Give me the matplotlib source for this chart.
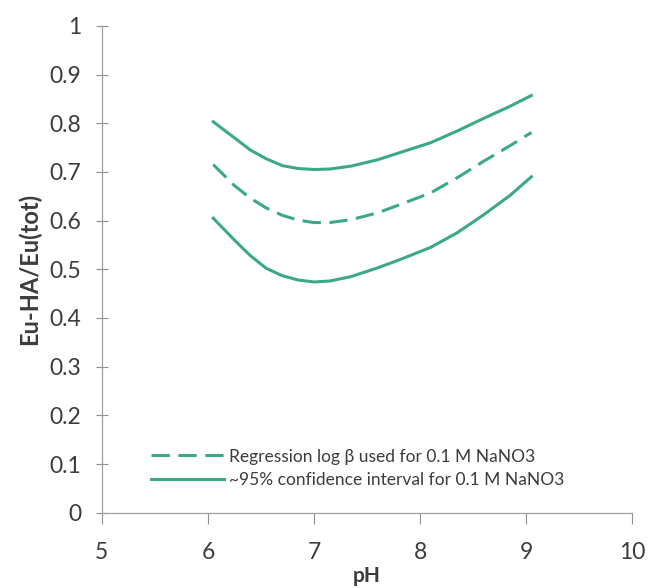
import matplotlib
matplotlib.use("Agg")
import matplotlib.pyplot as plt

ph = [6.05, 6.25, 6.4, 6.55, 6.7, 6.85, 7.0, 7.15, 7.35, 7.6, 7.8, 8.1, 8.35, 8.6, 8.85, 9.05]
upper = [0.803, 0.770, 0.745, 0.727, 0.713, 0.707, 0.705, 0.706, 0.712, 0.725, 0.739,
         0.760, 0.784, 0.810, 0.835, 0.857]
regression = [0.715, 0.672, 0.646, 0.626, 0.611, 0.601, 0.596, 0.596, 0.602, 0.616, 0.632,
              0.657, 0.688, 0.722, 0.754, 0.781]
lower = [0.605, 0.560, 0.528, 0.502, 0.487, 0.478, 0.474, 0.476, 0.485, 0.503, 0.519,
         0.545, 0.575, 0.612, 0.652, 0.690]

xticks = [5, 6, 7, 8, 9, 10]
yticks = [0, 0.1, 0.2, 0.3, 0.4, 0.5, 0.6, 0.7, 0.8, 0.9, 1]
ylabels = ["0", "0.1", "0.2", "0.3", "0.4", "0.5", "0.6", "0.7", "0.8", "0.9", "1"]

green = "#3BAA82"
grey = "#3c3c3c"
plt.rcParams["font.family"] = ["Lato", "DejaVu Sans"]

fig = plt.figure(figsize=(6.49, 5.88), dpi=100)
ax = fig.add_axes([0.157, 0.128, 0.817, 0.828])

ax.plot(ph, regression, color=green, lw=2.2, ls=(0, (6, 2.8)),
        label="Regression log \u03b2 used for 0.1 M NaNO3")
ax.plot(ph, upper, color=green, lw=2.2, label="~95% confidence interval for 0.1 M NaNO3")
ax.plot(ph, lower, color=green, lw=2.2)

ax.set_xlim(5, 10)
ax.set_ylim(0, 1)
ax.set_xticks(xticks)
ax.set_yticks(yticks)
ax.set_yticklabels(ylabels)
ax.tick_params(axis="both", labelsize=16.5, labelcolor=grey, colors="#909090", width=0.8)
ax.tick_params(axis="x", direction="out", length=8, pad=13)
ax.tick_params(axis="y", direction="inout", length=8, pad=11)
for s in ["top", "right"]:
    ax.spines[s].set_visible(False)
for s in ["left", "bottom"]:
    ax.spines[s].set_color("#a0a0a0")
    ax.spines[s].set_linewidth(0.9)

ax.set_xlabel("pH", fontsize=15, fontweight="bold", color=grey, labelpad=2)
ax.set_ylabel("Eu-HA/Eu(tot)", fontsize=17, fontweight="bold", color=grey, labelpad=6)

ax.legend(loc="lower left", bbox_to_anchor=(0.063, 0.018), frameon=False, fontsize=12.5,
          handlelength=4.2, handletextpad=0.3, labelspacing=0.45, labelcolor=grey)

fig.savefig("out.png", dpi=100)
